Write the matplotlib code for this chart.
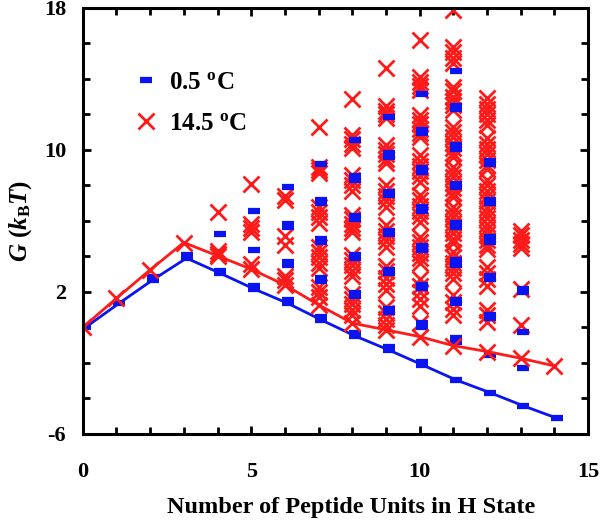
import matplotlib
matplotlib.use("Agg")
import matplotlib.pyplot as plt
from matplotlib.lines import Line2D
from matplotlib.ticker import MultipleLocator, FixedLocator

plt.rcParams['font.family'] = 'Liberation Serif'
plt.rcParams['font.weight'] = 'bold'
plt.rcParams['axes.unicode_minus'] = False
plt.rcParams['mathtext.fontset'] = 'custom'
plt.rcParams['mathtext.rm'] = 'Liberation Serif:bold'
plt.rcParams['mathtext.bf'] = 'Liberation Serif:bold'
plt.rcParams['mathtext.it'] = 'Liberation Serif:italic:bold'

# lowest free energy per number of H-state units (the two lines)
n_line = list(range(15))
red_line = [0, 1.64, 3.24, 4.78, 4.03, 3.28, 2.39, 1.27, 0.24, -0.14, -0.52, -1.03, -1.36, -1.74, -2.17]
blue_line = [0, 1.36, 2.68, 3.9, 3.05, 2.17, 1.36, 0.42, -0.48, -1.27, -2.11, -2.96, -3.67, -4.42, -5.12]

# other states, 14.5 C
red_states = {
    4: [6.5, 4.3, 4.15],
    5: [8.1, 5.85, 5.6, 5.4, 3.55],
    6: [7.4, 7.2, 5.15, 4.65, 2.9, 2.65],
    7: [11.3, 9.05, 8.85, 8.7, 6.8, 6.5, 6.2, 5.9, 4.55, 4.25, 3.95, 3.65, 3.35, 2.3, 2.0, 1.7],
    8: [12.85, 10.85, 10.6, 10.35, 10.1, 8.6, 8.3, 8.0, 7.7, 6.35, 6.1, 5.85, 5.6, 5.4,
        4.1, 3.8, 3.5, 3.2, 2.9, 1.9, 1.6, 1.3, 1.0, 0.7],
    9: [14.6, 12.45, 12.2, 12.0, 11.8, 10.3, 10.0, 9.75, 9.5, 9.25, 8.0, 7.7, 7.4, 7.1, 6.8,
        5.75, 5.45, 5.15, 4.85, 4.55, 3.45, 3.15, 2.8, 2.45, 2.1, 1.15, 0.8, 0.45, 0.15],
    10: [16.2, 14.1, 13.85, 13.6, 13.4, 11.95, 11.7, 11.45, 11.2, 10.95, 10.75, 9.7, 9.4, 9.1,
         8.8, 8.5, 8.2, 7.45, 7.15, 6.85, 6.55, 6.25, 5.95, 5.1, 4.8, 4.5, 4.2, 3.9, 3.6,
         2.7, 2.35, 2.0, 1.6, 1.2, 0.25],
    11: [17.9, 15.8, 15.5, 15.2, 14.9, 13.55, 13.3, 13.0, 12.75, 12.5, 12.25, 11.3, 11.0, 10.7,
         10.4, 10.1, 9.85, 9.6, 9.05, 8.75, 8.45, 8.15, 7.85, 7.55, 7.35, 6.8, 6.5, 6.2, 5.9,
         5.6, 5.3, 5.0, 4.75, 4.25, 3.95, 3.65, 3.35, 3.05, 2.75, 1.8, 1.45, 1.05, 0.7],
    12: [12.9, 12.6, 12.3, 12.0, 11.7, 11.4, 10.65, 10.35, 10.05, 9.75, 9.45, 9.15, 8.95, 8.3,
         8.0, 7.7, 7.4, 7.1, 6.75, 6.45, 6.15, 5.85, 5.55, 5.25, 4.95, 4.65, 4.4, 3.4, 3.05,
         2.7, 2.35, 1.0, 0.7, 0.3],
    13: [5.45, 5.2, 4.95, 4.7, 4.45, 2.15, 0.15],
}

# other states, 0.5 C
blue_states = {
    2: [2.85],
    3: [4.05],
    4: [5.25, 3.2],
    5: [6.56, 4.37, 2.35],
    6: [7.88, 5.68, 5.85, 3.52, 3.7, 1.55],
    7: [9.21, 7.0, 7.2, 4.8, 5.0, 2.62, 2.8, 0.6],
    8: [10.53, 8.31, 8.5, 6.1, 6.3, 3.9, 4.1, 1.74, 1.95, -0.3],
    9: [11.84, 9.62, 9.8, 7.46, 7.65, 5.27, 5.45, 3.05, 3.25, 0.86, 1.05, -1.1],
    10: [13.14, 10.94, 11.1, 8.78, 8.97, 6.58, 6.77, 4.37, 4.6, 2.21, 2.4, 0.04, 0.22, -1.95],
    11: [14.47, 12.29, 12.45, 10.06, 10.25, 7.88, 8.07, 5.68, 5.88, 3.52, 3.8, 1.36, 1.55, -0.8, -0.6],
    12: [9.19, 9.38, 7.0, 7.2, 4.83, 5.1, 2.71, 2.9, 0.52, 0.7, -1.55],
    13: [2.0, 2.15, -0.24, -2.3],
}

y_ticks = [-6, 2, 10, 18]
labels = ['0.5 $^\\mathrm{o}$C', '14.5 $^\\mathrm{o}$C']

blue = '#0a14f0'
red = '#ff1a1a'

fig = plt.figure(figsize=(6, 5.24), dpi=100)
ax = fig.add_axes([0.138, 0.172, 0.842, 0.813])

dodge = 0.08
for n, vals in red_states.items():
    ax.plot([n] * len(vals), vals, ls='none', marker='x', ms=11, mew=2, color=red)
for n, vals in blue_states.items():
    ax.plot([n + dodge] * len(vals), vals, ls='none', marker='_', ms=8, mew=4.5, color=blue)

ax.plot([n + dodge for n in n_line], blue_line, color=blue, lw=2, marker='_', ms=8, mew=4.5)
ax.plot(n_line, red_line, color=red, lw=2, marker='x', ms=11, mew=2)

ax.set_xlim(0, 15)
ax.set_ylim(-6, 18)
ax.xaxis.set_major_locator(MultipleLocator(5))
ax.xaxis.set_minor_locator(MultipleLocator(1))
ax.yaxis.set_major_locator(FixedLocator(y_ticks))
ax.yaxis.set_minor_locator(MultipleLocator(2))
ax.tick_params(which='both', direction='in', top=True, right=True, width=2, labelsize=16)
ax.tick_params(which='major', length=6)
ax.tick_params(which='minor', length=5)
ax.tick_params(axis='x', pad=20)
ax.tick_params(axis='y', pad=12)
for s in ax.spines.values():
    s.set_linewidth(2.2)
for lab in ax.get_xticklabels() + ax.get_yticklabels():
    lab.set_fontweight('bold')

ax.set_xlabel('Number of Peptide Units in H State', fontsize=17.5, fontweight='bold')
ax.xaxis.set_label_coords(0.532, -0.148)
ax.set_ylabel('$G\\ (k_\\mathrm{B}T)$', fontsize=18, labelpad=7)

# legend shows the markers only
handles = [Line2D([], [], ls='none', marker='_', ms=8, mew=4.5, color=blue),
           Line2D([], [], ls='none', marker='x', ms=11, mew=2, color=red)]
ax.legend(handles, labels, loc='upper left', bbox_to_anchor=(0.06, 0.905), frameon=False,
          fontsize=18, handlelength=0.8, handletextpad=0.55, labelspacing=0.72, numpoints=1)

fig.savefig('out.png', dpi=100)
